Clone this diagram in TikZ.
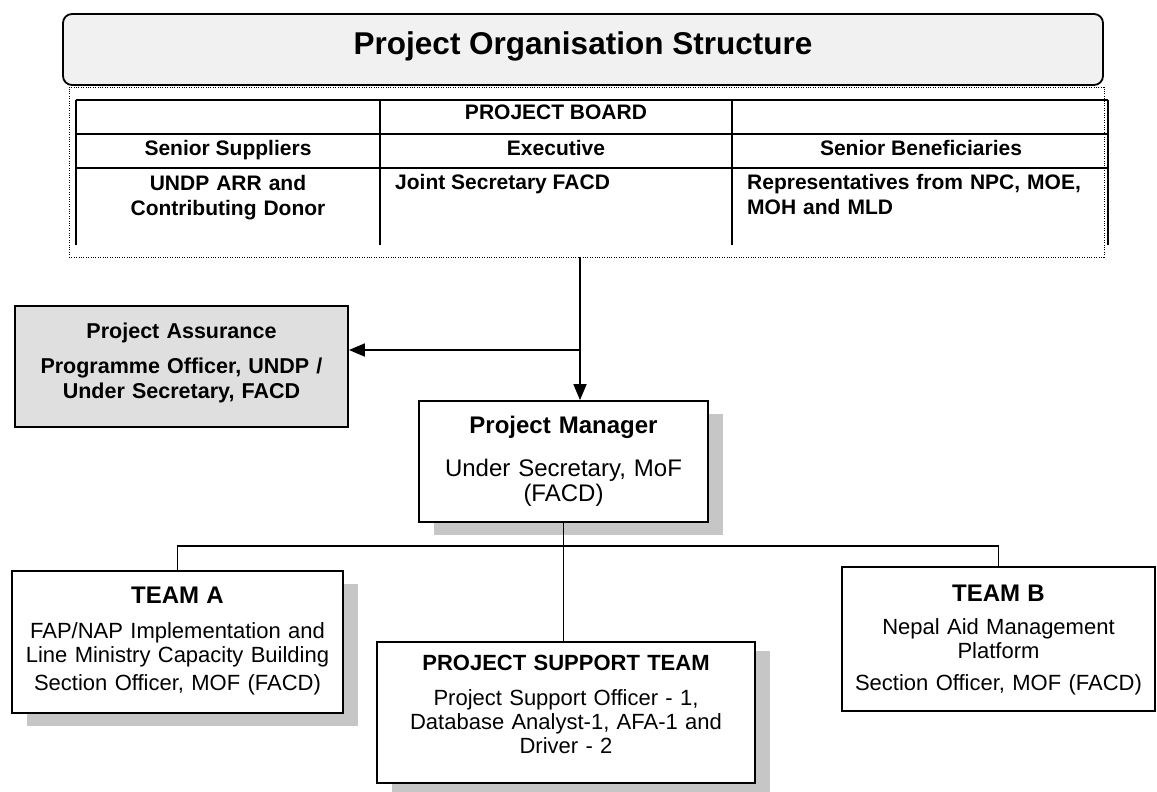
\documentclass[tikz,border=0pt]{standalone}
\usepackage{fontspec}
\setmainfont{Liberation Sans}
\usetikzlibrary{arrows.meta,shadows}

\begin{document}
\begin{tikzpicture}[x=1pt,y=-1pt,
  orgbox/.style={draw,line width=1.8pt,inner sep=0pt,align=center,fill=white,
    font=\fontsize{22}{24}\selectfont},
  withshadow/.style={drop shadow={shadow xshift=15pt,shadow yshift=-13pt,fill=gray!45,opacity=1}},
  cell/.style={font=\fontsize{21}{25}\selectfont\bfseries,inner sep=0pt,anchor=base},
  tablerule/.style={line width=1.1pt},
  link/.style={line width=1.8pt},
  arr/.style={link,-{Triangle[length=16pt,width=13pt]}},
]
\useasboundingbox (0,0) rectangle (1157,792);

% dotted frame around the board
\node[draw,dash pattern=on 1pt off 1.4pt,line width=0.9pt,inner sep=0pt,
      minimum width=1035pt,minimum height=170pt] (board) at (586.5,172) {};

% heading banner
\node[draw,line width=1.8pt,rounded corners=9pt,fill=gray!11,inner sep=0pt,
      minimum width=1040pt,text height=41pt,text depth=30pt,
      font=\fontsize{31.5}{36}\selectfont\bfseries] (title) at (583,49.5)
      {Project Organisation Structure};

% board table
\draw[tablerule] (76,100) -- (1108,100) (76,134) -- (1108,134) (76,168) -- (1108,168);
\draw[tablerule] (76,100) -- (76,245) (380,100) -- (380,245)
                 (732,100) -- (732,245) (1108,100) -- (1108,245);

\node[cell] (pb) at (556,119) {PROJECT BOARD};
\node[cell] (ss) at (228,155) {Senior Suppliers};
\node[cell] (ex) at (556,155) {Executive};
\node[cell] (sb) at (921,155) {Senior Beneficiaries};
\node[cell,text width=300pt,align=center] (ssm) at (228,190)
      {UNDP ARR and\\Contributing Donor};
\node[cell,anchor=base west] (exm) at (395,189) {Joint Secretary FACD};
\node[cell,anchor=base west,text width=352pt,align=left] (sbm) at (747,189)
      {\makebox[351pt][s]{Representatives from NPC, MOE,}\\MOH and MLD};

% organisation boxes
\node[orgbox,fill=gray!25,text width=333pt,text height=32pt,text depth=89pt,
      font=\fontsize{21.5}{25}\selectfont\bfseries] (pa) at (181.5,366.5)
      {Project Assurance\\[10pt]Programme Officer, UNDP /\\Under Secretary, FACD};

\node[orgbox,withshadow,text width=289pt,text height=32pt,text depth=89pt,
      font=\fontsize{24}{25}\selectfont] (pm) at (563.5,461.5)
      {\textbf{Project Manager}\\[18pt]Under Secretary, MoF\\(FACD)};

\node[orgbox,withshadow,text width=331pt,text height=32pt,text depth=110pt] (teamA) at (177.5,642)
      {{\fontsize{24}{24}\selectfont\bfseries TEAM A}\\[11pt]FAP/NAP Implementation and\\
       Line Ministry Capacity Building\\[4pt]Section Officer, MOF (FACD)};

\node[orgbox,drop shadow={shadow xshift=15pt,shadow yshift=-9pt,fill=gray!45,opacity=1},
      text width=378pt,text height=28pt,text depth=113pt] (sup) at (566,712.5)
      {\textbf{PROJECT SUPPORT TEAM}\\[11pt]Project Support Officer - 1,\\
       Database Analyst-1, AFA-1 and\\Driver - 2};

\node[orgbox,text width=313pt,text height=34pt,text depth=110pt] (teamB) at (998.5,639)
      {{\fontsize{24}{24}\selectfont\bfseries TEAM B}\\[9pt]Nepal Aid Management\\
       Platform\\[8pt]Section Officer, MOF (FACD)};

% connectors
\coordinate (split) at (580,350);
\coordinate (bus) at (565,546);
\draw[link] (board.south -| split) -- (split);
\draw[arr] (split) -- (split |- pm.north);
\draw[arr] (split) -- (split -| pa.east);
\draw[link] (pm.south) -- (pm.south |- sup.north);
\draw[link] (teamA.north) -- (teamA.north |- bus) -- (teamB.north |- bus) -- (teamB.north);
\end{tikzpicture}
\end{document}
